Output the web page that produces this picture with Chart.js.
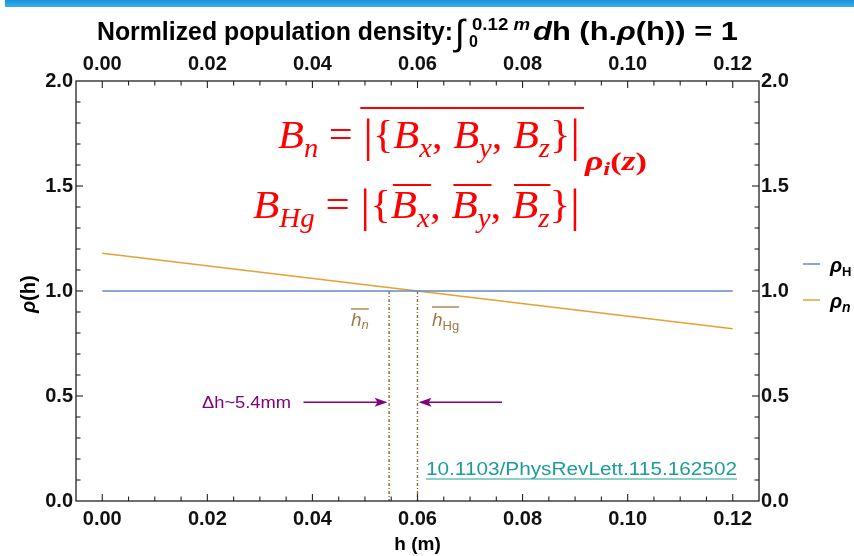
<!DOCTYPE html>
<html lang="en">
<head>
    <meta charset="UTF-8">
    <title>Normalized population density</title>
    <script src="https://cdn.jsdelivr.net/npm/chart.js"></script>
    <style>
        html, body { margin: 0; padding: 0; background: #fff; }
        #wrap { width: 854px; height: 556px; position: relative; }
    </style>
</head>
<body>
    <div id="wrap"><canvas id="rhoChart" width="854" height="556"></canvas></div>

    <script>
        // chart data
        const hEnds = [0, 0.12];
        const rhoH = [1.0, 1.0];
        const rhoN = [1.18, 0.82];
        const hMeanN = 0.0546;
        const hMeanHg = 0.06;
        const markerTop = 1.0;
        const arrowLevel = 0.47;
        const arrowLeft = [0.0383, 0.0543];
        const arrowRight = [0.0761, 0.0602];
        const xTicks = [0, 0.02, 0.04, 0.06, 0.08, 0.10, 0.12];
        const yTicks = [0, 0.5, 1.0, 1.5, 2.0];

        const SANS = '"Liberation Sans", Arial, sans-serif';
        const SERIF = '"Liberation Serif", "Times New Roman", serif';
        const BLUE = '#6689c8';
        const ORANGE = '#e5a233';
        const BROWN = '#94693a';
        const PURPLE = '#800080';

        // draw a row of text pieces, squeezed or stretched to a given width
        function drawRuns(ctx, x, y, runs, width, color) {
            let total = 0;
            runs.forEach(r => { ctx.font = r.font; r.w = ctx.measureText(r.t).width; total += r.w; });
            const sx = width ? width / total : 1;
            ctx.save();
            ctx.translate(x, y);
            ctx.scale(sx, 1);
            ctx.textBaseline = 'alphabetic';
            ctx.textAlign = 'left';
            let cx = 0;
            runs.forEach(r => {
                ctx.font = r.font;
                ctx.fillStyle = r.color || color;
                ctx.fillText(r.t, cx, r.dy || 0);
                r.x0 = x + cx * sx;
                r.x1 = x + (cx + r.w) * sx;
                cx += r.w;
            });
            ctx.restore();
            return runs;
        }

        function line(ctx, x0, y0, x1, y1, color, w) {
            ctx.beginPath();
            ctx.strokeStyle = color;
            ctx.lineWidth = w;
            ctx.moveTo(x0, y0);
            ctx.lineTo(x1, y1);
            ctx.stroke();
        }

        const decorations = {
            id: 'decorations',
            beforeDraw(chart) {
                const ctx = chart.ctx;
                ctx.save();
                const g = ctx.createLinearGradient(0, 0, 0, 8);
                g.addColorStop(0, '#1592dc');
                g.addColorStop(1, '#3fb3ee');
                ctx.fillStyle = g;
                ctx.fillRect(5, 0, 849, 7);
                ctx.restore();
            },
            afterDatasetsDraw(chart) {
                const ctx = chart.ctx;
                const x = chart.scales.x, y = chart.scales.y;
                ctx.save();
                // arrow heads
                [arrowLeft, arrowRight].forEach(a => {
                    const px = x.getPixelForValue(a[1]);
                    const py = y.getPixelForValue(arrowLevel);
                    const dir = a[1] > a[0] ? 1 : -1;
                    ctx.beginPath();
                    ctx.fillStyle = PURPLE;
                    ctx.moveTo(px, py);
                    ctx.lineTo(px - dir * 13, py - 4.5);
                    ctx.lineTo(px - dir * 10, py);
                    ctx.lineTo(px - dir * 13, py + 4.5);
                    ctx.closePath();
                    ctx.fill();
                });
                ctx.restore();
            },
            afterDraw(chart) {
                const ctx = chart.ctx;
                const x = chart.scales.x, y = chart.scales.y;
                const a = chart.chartArea;
                ctx.save();

                // frame
                ctx.strokeStyle = '#222';
                ctx.lineWidth = 1.3;
                ctx.strokeRect(a.left, a.top, a.right - a.left, a.bottom - a.top);

                // inward ticks
                for (let i = -1; i <= 25; i++) {
                    const v = i * 0.005;
                    const px = x.getPixelForValue(v);
                    if (px < a.left + 1 || px > a.right - 1) continue;
                    const len = (i % 4 === 0) ? 7 : 4.5;
                    line(ctx, px, a.bottom, px, a.bottom - len, '#222', 1.1);
                    line(ctx, px, a.top, px, a.top + len, '#222', 1.1);
                }
                for (let i = 1; i < 20; i++) {
                    const py = y.getPixelForValue(i * 0.1);
                    const len = (i % 5 === 0) ? 7 : 4.5;
                    line(ctx, a.left, py, a.left + len, py, '#222', 1.1);
                    line(ctx, a.right, py, a.right - len, py, '#222', 1.1);
                }

                // title
                const tb = 'bold 26px ' + SANS;
                const ts = 'bold 16px ' + SANS;
                drawRuns(ctx, 97, 40, [{t: 'Normlized population density:', font: tb}], 356, '#000');
                ctx.fillStyle = '#000';
                ctx.font = '36px ' + SANS;
                ctx.fillText('\u222B', 455, 45);
                drawRuns(ctx, 472, 30, [
                    {t: '0.12', font: ts},
                    {t: ' m', font: 'italic bold 16px ' + SANS}
                ], 58, '#000');
                ctx.font = ts;
                ctx.fillText('0', 469, 47);
                drawRuns(ctx, 533, 40, [
                    {t: 'd', font: 'italic bold 26px ' + SANS},
                    {t: 'h (h.', font: tb},
                    {t: '\u03C1', font: 'italic bold 26px ' + SANS},
                    {t: '(h)) = 1', font: tb}
                ], 205, '#000');

                // axis titles
                ctx.fillStyle = '#000';
                ctx.font = 'bold 19px ' + SANS;
                ctx.textAlign = 'center';
                ctx.textBaseline = 'middle';
                ctx.fillText('h (m)', (a.left + a.right) / 2, 545);
                ctx.save();
                ctx.translate(28, (a.top + a.bottom) / 2);
                ctx.rotate(-Math.PI / 2);
                ctx.textAlign = 'left';
                ctx.textBaseline = 'alphabetic';
                drawRuns(ctx, -22, 7, [
                    {t: '\u03C1', font: 'italic bold 20px ' + SANS},
                    {t: '(h)', font: 'bold 20px ' + SANS}
                ], 0, '#000');
                ctx.restore();

                // legend
                line(ctx, 803, 264, 820, 264, BLUE, 1.5);
                line(ctx, 803, 300, 820, 300, ORANGE, 1.5);
                drawRuns(ctx, 830, 272, [
                    {t: '\u03C1', font: 'italic bold 20px ' + SANS},
                    {t: 'H', font: 'bold 13px ' + SANS, dy: 4}
                ], 0, '#000');
                drawRuns(ctx, 830, 308, [
                    {t: '\u03C1', font: 'italic bold 20px ' + SANS},
                    {t: 'n', font: 'italic bold 14px ' + SANS, dy: 4}
                ], 0, '#000');

                // mean-height labels
                const lbl = '#a07a45';
                const r1 = drawRuns(ctx, 351, 326, [
                    {t: 'h', font: 'italic 19px ' + SANS},
                    {t: 'n', font: 'italic 13px ' + SANS, dy: 3}
                ], 0, lbl);
                line(ctx, r1[0].x0, 309, r1[1].x1, 309, lbl, 1.3);
                const r2 = drawRuns(ctx, 432, 326, [
                    {t: 'h', font: 'italic 19px ' + SANS},
                    {t: 'Hg', font: '13px ' + SANS, dy: 4}
                ], 0, lbl);
                line(ctx, r2[0].x0, 307, r2[1].x1, 307, lbl, 1.3);

                // delta h text
                drawRuns(ctx, 202, 408, [{t: '\u0394h~5.4mm', font: '16px ' + SANS}], 89, PURPLE);

                // doi
                const doi = drawRuns(ctx, 426, 475, [{t: '10.1103/PhysRevLett.115.162502', font: '18px ' + SANS}], 311, '#1e9c9c');
                line(ctx, doi[0].x0, 479, doi[0].x1, 479, '#1e9c9c', 1);

                // formulas
                const red = '#ff0000';
                const F = 'italic 40px ' + SERIF;
                const U = '40px ' + SERIF;
                const S = 'italic 27px ' + SERIF;
                const f1 = drawRuns(ctx, 278, 148, [
                    {t: 'B', font: F}, {t: 'n', font: S, dy: 9},
                    {t: ' = ', font: U},
                    {t: '|', font: '46px ' + SERIF, dy: 3}, {t: '{', font: U},
                    {t: 'B', font: F}, {t: 'x', font: S, dy: 9}, {t: ', ', font: U},
                    {t: 'B', font: F}, {t: 'y', font: S, dy: 9}, {t: ', ', font: U},
                    {t: 'B', font: F}, {t: 'z', font: S, dy: 9},
                    {t: '}', font: U}, {t: '|', font: '46px ' + SERIF, dy: 3}
                ], 302, red);
                line(ctx, f1[3].x0 - 3, 108, f1[14].x1 + 4, 108, red, 2);
                drawRuns(ctx, 585, 170, [
                    {t: '\u03C1', font: 'italic bold 27px ' + SERIF},
                    {t: 'i', font: 'italic bold 19px ' + SERIF, dy: 5},
                    {t: '(', font: 'bold 26px ' + SERIF},
                    {t: 'z', font: 'italic bold 27px ' + SERIF},
                    {t: ')', font: 'bold 26px ' + SERIF}
                ], 62, red);
                const f2 = drawRuns(ctx, 253, 218, [
                    {t: 'B', font: F}, {t: 'Hg', font: S, dy: 9},
                    {t: ' = ', font: U},
                    {t: '|', font: '46px ' + SERIF, dy: 3}, {t: '{', font: U},
                    {t: 'B', font: F}, {t: 'x', font: S, dy: 9}, {t: ', ', font: U},
                    {t: 'B', font: F}, {t: 'y', font: S, dy: 9}, {t: ', ', font: U},
                    {t: 'B', font: F}, {t: 'z', font: S, dy: 9},
                    {t: '}', font: U}, {t: '|', font: '46px ' + SERIF, dy: 3}
                ], 327, red);
                [5, 8, 11].forEach(k => {
                    line(ctx, f2[k].x0 + 2, 185, f2[k + 1].x1 + 1, 185, red, 2);
                });

                ctx.restore();
            }
        };

        const pts = (xs, ys) => xs.map((v, i) => ({x: v, y: ys[i]}));

        const tickFont = {family: SANS, size: 20, weight: 'bold'};

        new Chart(document.getElementById('rhoChart').getContext('2d'), {
            type: 'line',
            data: {
                datasets: [
                    {label: 'rhoH', data: pts(hEnds, rhoH), borderColor: BLUE, borderWidth: 1.6},
                    {label: 'rhoN', data: pts(hEnds, rhoN), borderColor: ORANGE, borderWidth: 1.6},
                    {label: 'hN', data: pts([hMeanN, hMeanN], [markerTop, 0]), borderColor: BROWN, borderWidth: 1.4, borderDash: [3, 2, 1, 2]},
                    {label: 'hHg', data: pts([hMeanHg, hMeanHg], [markerTop, 0]), borderColor: BROWN, borderWidth: 1.4, borderDash: [3, 2, 1, 2]},
                    {label: 'arrowL', data: pts([arrowLeft[0], arrowLeft[1] - 0.001], [arrowLevel, arrowLevel]), borderColor: PURPLE, borderWidth: 1.6},
                    {label: 'arrowR', data: pts([arrowRight[0], arrowRight[1] + 0.001], [arrowLevel, arrowLevel]), borderColor: PURPLE, borderWidth: 1.6}
                ]
            },
            options: {
                responsive: false,
                animation: false,
                events: [],
                layout: {padding: 0},
                elements: {point: {radius: 0}, line: {tension: 0}},
                plugins: {legend: {display: false}, tooltip: {enabled: false}},
                scales: {
                    x: {
                        type: 'linear', position: 'bottom', min: -0.005, max: 0.125,
                        afterBuildTicks: s => { s.ticks = xTicks.map(v => ({value: v})); },
                        afterFit: s => { s.height = 55; },
                        grid: {display: false, drawTicks: false},
                        border: {display: false},
                        ticks: {font: tickFont, color: '#111', padding: 6, maxRotation: 0, callback: v => v.toFixed(2)}
                    },
                    x2: {
                        type: 'linear', position: 'top', min: -0.005, max: 0.125,
                        afterBuildTicks: s => { s.ticks = xTicks.map(v => ({value: v})); },
                        afterFit: s => { s.height = 81; },
                        grid: {display: false, drawTicks: false},
                        border: {display: false},
                        ticks: {font: tickFont, color: '#111', padding: 5, maxRotation: 0, callback: v => v.toFixed(2)}
                    },
                    y: {
                        type: 'linear', position: 'left', min: 0, max: 2,
                        afterBuildTicks: s => { s.ticks = yTicks.map(v => ({value: v})); },
                        afterFit: s => { s.width = 76; },
                        grid: {display: false, drawTicks: false},
                        border: {display: false},
                        ticks: {font: tickFont, color: '#111', padding: 3, callback: v => v.toFixed(1)}
                    },
                    y2: {
                        type: 'linear', position: 'right', min: 0, max: 2,
                        afterBuildTicks: s => { s.ticks = yTicks.map(v => ({value: v})); },
                        afterFit: s => { s.width = 95; },
                        grid: {display: false, drawTicks: false},
                        border: {display: false},
                        ticks: {font: tickFont, color: '#111', padding: 2, callback: v => v.toFixed(1)}
                    }
                }
            },
            plugins: [decorations]
        });
    </script>
</body>
</html>
